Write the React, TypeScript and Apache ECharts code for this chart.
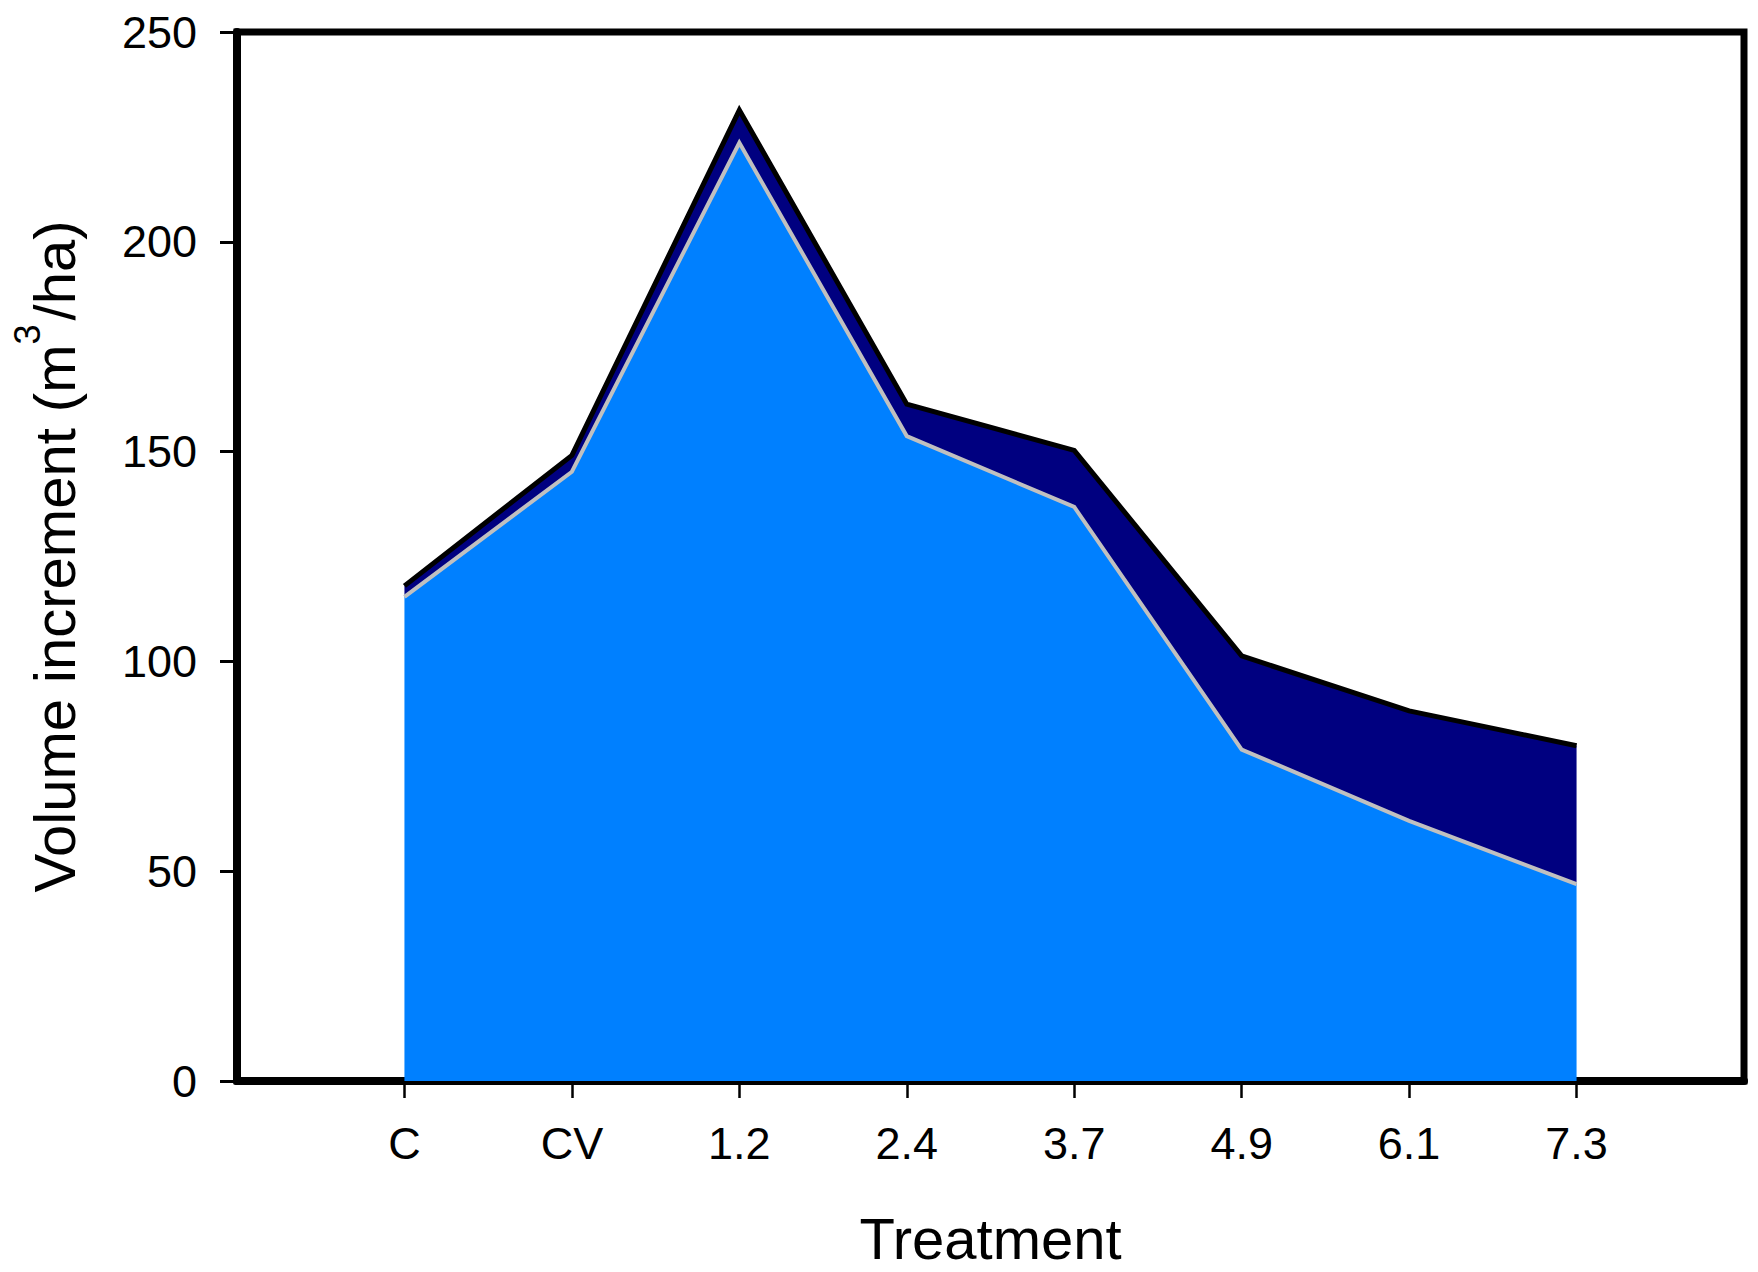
import React, { useEffect, useRef } from "react";
import * as echarts from "echarts";

const categories = ["C", "CV", "1.2", "2.4", "3.7", "4.9", "6.1", "7.3"];
// lower layer (light blue) values, m3/ha
const lowerValues = [115.4, 145.2, 223.6, 153.7, 136.8, 79.0, 62.0, 46.9];
// upper layer (navy) increments stacked on the lower layer
const upperValues = [2.6, 3.9, 7.8, 7.6, 13.5, 22.3, 26.2, 33.0];
const yTicks = [0, 50, 100, 150, 200, 250];

const FONT = "'Liberation Sans', Arial, Helvetica, sans-serif";

export default function App() {
  const ref = useRef<HTMLDivElement>(null);
  useEffect(() => {
    document.body.style.margin = "0";
    if (!ref.current) return;
    const chart = echarts.init(ref.current, undefined, { renderer: "svg" });
    const axisCats = ["", ...categories, ""];
    const pad = (arr: number[]) => [null, ...arr, null];
    chart.setOption({
      animation: false,
      backgroundColor: "#ffffff",
      grid: {
        left: 237,
        right: 14,
        top: 32,
        bottom: 189,
        show: true,
        borderColor: "#000000",
        borderWidth: 7,
        backgroundColor: "transparent",
      },
      xAxis: {
        type: "category",
        data: axisCats,
        boundaryGap: false,
        name: "Treatment",
        nameLocation: "middle",
        nameGap: 128,
        nameTextStyle: { fontFamily: FONT, fontSize: 58, color: "#000" },
        axisLine: { show: true, lineStyle: { color: "#000", width: 8 } },
        axisTick: {
          show: true,
          inside: false,
          length: 17,
          interval: (i: number) => i > 0 && i < axisCats.length - 1,
          lineStyle: { color: "#000", width: 2.5 },
        },
        axisLabel: {
          interval: 0,
          margin: 40,
          fontFamily: FONT,
          fontSize: 45,
          color: "#000",
        },
        splitLine: { show: false },
      },
      yAxis: {
        type: "value",
        min: yTicks[0],
        max: yTicks[yTicks.length - 1],
        interval: yTicks[1] - yTicks[0],
        name: "Volume increment (m{sup|3}/ha)",
        nameLocation: "middle",
        nameGap: 138,
        nameTextStyle: {
          fontFamily: FONT,
          fontSize: 58,
          lineHeight: 90,
          color: "#000",
          rich: {
            sup: {
              fontFamily: FONT,
              fontSize: 36,
              color: "#000",
              verticalAlign: "top",
              lineHeight: 34,
              padding: [0, 4, 0, 0],
            },
          },
        },
        axisLine: { show: true, lineStyle: { color: "#000", width: 8 } },
        axisTick: {
          show: true,
          inside: false,
          length: 17,
          lineStyle: { color: "#000", width: 3 },
        },
        axisLabel: {
          margin: 40,
          fontFamily: FONT,
          fontSize: 45,
          color: "#000",
        },
        splitLine: { show: false },
      },
      series: [
        {
          name: "lower",
          type: "line",
          stack: "total",
          data: pad(lowerValues),
          showSymbol: false,
          symbol: "none",
          z: 4,
          lineStyle: { color: "#C0C0C0", width: 4, join: "miter" },
          areaStyle: { color: "#0080FF", opacity: 1 },
          itemStyle: { color: "#0080FF" },
        },
        {
          name: "upper",
          type: "line",
          stack: "total",
          data: pad(upperValues),
          showSymbol: false,
          symbol: "none",
          z: 3,
          lineStyle: { color: "#000000", width: 5, join: "miter" },
          areaStyle: { color: "#000080", opacity: 1 },
          itemStyle: { color: "#000080" },
        },
      ],
    });
    return () => chart.dispose();
  }, []);
  return <div ref={ref} style={{ width: 1758, height: 1272 }} />;
}
